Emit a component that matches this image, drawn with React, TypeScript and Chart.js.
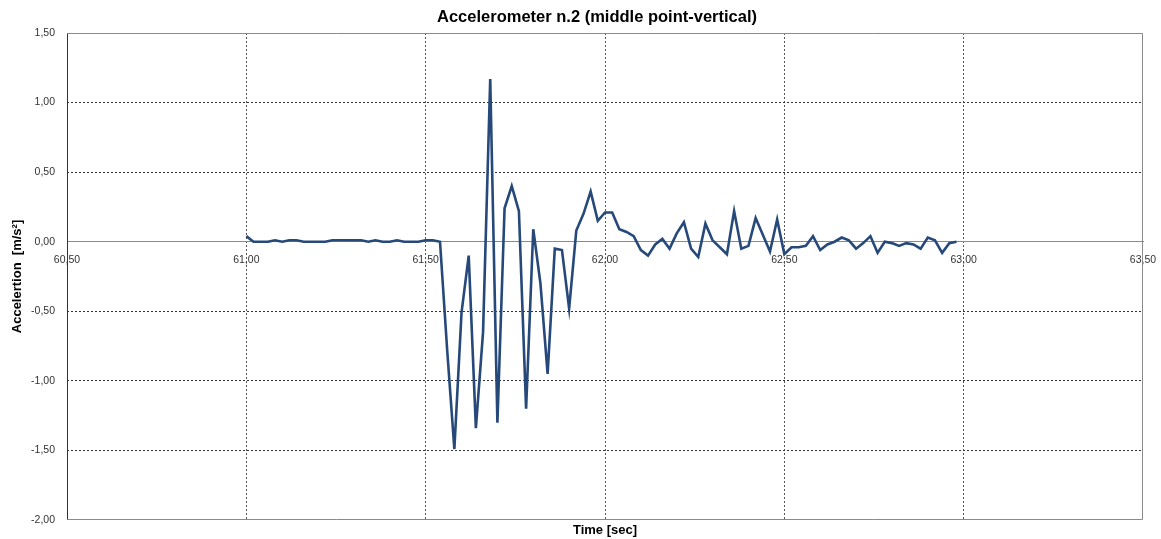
import React, { useEffect, useRef } from "react";
import { Chart, registerables } from "chart.js";

Chart.register(...registerables);

const TITLE = "Accelerometer n.2 (middle point-vertical)";
const Y_TITLE = "Accelertion  [m/s²]";
const X_TITLE = "Time [sec]";

const X_MIN = 60.5;
const X_MAX = 63.5;
const X_STEP = 0.5;
const Y_MIN = -2;
const Y_MAX = 1.5;
const Y_STEP = 0.5;

const TIMES = [
  61.0, 61.02, 61.04, 61.06, 61.08, 61.1, 61.12, 61.14, 61.16, 61.18,
  61.2, 61.22, 61.24, 61.26, 61.28, 61.3, 61.32, 61.34, 61.36, 61.38,
  61.4, 61.42, 61.44, 61.46, 61.48, 61.5, 61.52, 61.54, 61.56, 61.58,
  61.6, 61.62, 61.64, 61.66, 61.68, 61.7, 61.72, 61.74, 61.76, 61.78,
  61.8, 61.82, 61.84, 61.86, 61.88, 61.9, 61.92, 61.94, 61.96, 61.98,
  62.0, 62.02, 62.04, 62.06, 62.08, 62.1, 62.12, 62.14, 62.16, 62.18,
  62.2, 62.22, 62.24, 62.26, 62.28, 62.3, 62.32, 62.34, 62.36, 62.38,
  62.4, 62.42, 62.44, 62.46, 62.48, 62.5, 62.52, 62.54, 62.56, 62.58,
  62.6, 62.62, 62.64, 62.66, 62.68, 62.7, 62.72, 62.74, 62.76, 62.78,
  62.8, 62.82, 62.84, 62.86, 62.88, 62.9, 62.92, 62.94, 62.96, 62.98,
];

const ACCEL = [
  0.04, 0.0, 0.0, 0.0, 0.01, 0.0, 0.01, 0.01, 0.0, 0.0,
  0.0, 0.0, 0.01, 0.01, 0.01, 0.01, 0.01, 0.0, 0.01, 0.0,
  0.0, 0.01, 0.0, 0.0, 0.0, 0.01, 0.01, 0.0, -0.78, -1.49,
  -0.51, -0.1, -1.34, -0.65, 1.17, -1.3, 0.24, 0.4, 0.22, -1.2,
  0.09, -0.3, -0.95, -0.05, -0.06, -0.48, 0.08, 0.2, 0.36, 0.15,
  0.21, 0.21, 0.09, 0.07, 0.04, -0.06, -0.1, -0.02, 0.02, -0.05,
  0.06, 0.14, -0.05, -0.11, 0.13, 0.01, -0.04, -0.09, 0.22, -0.05,
  -0.03, 0.17, 0.05, -0.07, 0.16, -0.09, -0.04, -0.04, -0.03, 0.04,
  -0.06, -0.02, 0.0, 0.03, 0.01, -0.05, -0.01, 0.04, -0.08, 0.0,
  -0.01, -0.03, -0.01, -0.02, -0.05, 0.03, 0.01, -0.08, -0.01, 0.0,
];

const FONT = "'Liberation Sans', Arial, sans-serif";
const LINE_COLOR = "#26497a";
const GRID_COLOR = "#333333";
const FRAME_COLOR = "#8a8a8a";

const fmt = (v: number) => v.toFixed(2).replace(".", ",");

const decorPlugin = {
  id: "decor",
  beforeDatasetsDraw(chart: any) {
    const { ctx, chartArea: a } = chart;
    const l = Math.round(a.left) + 0.5;
    const r = Math.round(a.right) - 0.5;
    const t = Math.round(a.top) + 0.5;
    const b = Math.round(a.bottom) - 0.5;
    ctx.save();
    ctx.setLineDash([]);
    ctx.lineWidth = 1;
    ctx.strokeStyle = FRAME_COLOR;
    ctx.beginPath();
    ctx.moveTo(l, t);
    ctx.lineTo(r, t);
    ctx.lineTo(r, b);
    ctx.lineTo(l, b);
    ctx.stroke();
    ctx.strokeStyle = "#333333";
    ctx.beginPath();
    ctx.moveTo(l, t);
    ctx.lineTo(l, b);
    ctx.stroke();
    ctx.restore();
  },
  afterDraw(chart: any) {
    const { ctx, chartArea: a } = chart;
    ctx.save();
    ctx.fillStyle = "#000";
    ctx.textAlign = "center";
    ctx.textBaseline = "alphabetic";
    ctx.font = `bold 16.5px ${FONT}`;
    ctx.fillText(TITLE, 597, 22);
    ctx.font = `bold 13px ${FONT}`;
    ctx.textBaseline = "middle";
    ctx.fillText(X_TITLE, 605, 530);
    ctx.translate(17, (a.top + a.bottom) / 2);
    ctx.rotate(-Math.PI / 2);
    ctx.fillText(Y_TITLE, 0, 0);
    ctx.restore();
  },
};

export default function App() {
  const ref = useRef<HTMLCanvasElement | null>(null);

  useEffect(() => {
    if (!ref.current) return;
    const data = TIMES.map((t, i) => ({ x: t, y: ACCEL[i] }));
    const isEdgeX = (v: number) => v === X_MIN || v === X_MAX;
    const isEdgeY = (v: number) => v === Y_MIN || v === Y_MAX || v === 0;
    const chart = new Chart(ref.current, {
      type: "line",
      data: {
        datasets: [
          {
            data,
            borderColor: LINE_COLOR,
            borderWidth: 2.6,
            pointRadius: 0,
            tension: 0,
            fill: false,
          },
        ],
      },
      options: {
        animation: false,
        responsive: false,
        maintainAspectRatio: false,
        layout: { padding: { top: 33, right: 18, bottom: 19, left: 0 } },
        plugins: {
          legend: { display: false },
          title: { display: false },
          tooltip: { enabled: false },
        },
        scales: {
          x: {
            type: "linear",
            position: { y: 0 } as any,
            min: X_MIN,
            max: X_MAX,
            afterFit: (s: any) => {
              s.paddingLeft = 0;
              s.paddingRight = 0;
              s.paddingTop = 0;
              s.paddingBottom = 0;
            },
            grid: {
              drawTicks: false,
              color: (c: any) =>
                c.tick && isEdgeX(c.tick.value) ? "rgba(0,0,0,0)" : "#555555",
            },
            border: { display: true, color: FRAME_COLOR, width: 1, dash: [2, 2] },
            ticks: {
              stepSize: X_STEP,
              autoSkip: false,
              maxRotation: 0,
              padding: 12,
              color: "#333333",
              font: { family: FONT, size: 10.5 },
              callback: (v: any) => fmt(Number(v)),
            },
          },
          y: {
            type: "linear",
            min: Y_MIN,
            max: Y_MAX,
            afterFit: (s: any) => {
              s.width = 67;
              s.paddingTop = 0;
              s.paddingBottom = 0;
            },
            grid: {
              drawTicks: false,
              color: (c: any) =>
                c.tick && isEdgeY(c.tick.value) ? "rgba(0,0,0,0)" : GRID_COLOR,
            },
            border: { display: false, dash: [2, 2] },
            ticks: {
              stepSize: Y_STEP,
              padding: 12,
              color: "#333333",
              font: { family: FONT, size: 10.5 },
              callback: (v: any) => fmt(Number(v)),
            },
          },
        },
      },
      plugins: [decorPlugin],
    });
    return () => chart.destroy();
  }, []);

  return (
    <div style={{ position: "fixed", left: 0, top: 0, width: 1161, height: 539, background: "#fff" }}>
      <canvas ref={ref} width={1161} height={539} style={{ display: "block" }} />
    </div>
  );
}
